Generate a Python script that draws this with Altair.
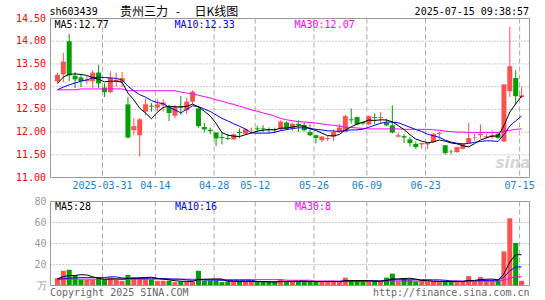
import altair as alt
import pandas as pd
import numpy as np

# ---------------- data ----------------
opens = [13.12, 13.27, 14.00, 13.24, 13.20, 13.12, 13.12, 13.31, 12.98, 12.88,
         13.12, 13.10, 12.61, 12.04, 11.93, 12.45, 12.58, 12.54, 12.59, 12.55,
         12.36, 12.57, 12.48, 12.67, 12.52, 12.11, 12.05, 11.99, 11.89, 11.87,
         11.84, 12.00, 11.96, 12.04, 12.08, 12.08, 12.06, 12.06, 12.06, 12.21,
         12.08, 12.18, 12.15, 12.00, 11.93, 11.82, 11.85, 11.90, 12.00, 12.00,
         12.28, 12.33, 12.22, 12.17, 12.33, 12.31, 12.21, 12.15, 11.90, 11.91,
         11.84, 11.74, 11.73, 11.73, 11.78, 11.96, 11.71, 11.57, 11.56, 11.63,
         11.76, 11.88, 11.93, 11.89, 11.89, 11.96, 11.79, 12.90, 13.19, 12.77]
highs = [13.31, 13.74, 14.16, 13.32, 13.27, 13.23, 13.36, 13.48, 13.07, 13.34,
         13.31, 13.32, 12.77, 12.31, 12.31, 12.74, 12.64, 12.72, 12.72, 12.60,
         12.60, 12.80, 12.76, 12.92, 12.57, 12.20, 12.10, 11.99, 11.99, 11.95,
         11.97, 12.08, 12.08, 12.10, 12.14, 12.15, 12.10, 12.10, 12.26, 12.24,
         12.21, 12.26, 12.21, 12.17, 11.94, 11.91, 11.91, 12.06, 12.18, 12.38,
         12.52, 12.34, 12.24, 12.37, 12.41, 12.44, 12.29, 12.59, 11.99, 11.95,
         11.89, 11.79, 11.76, 11.76, 11.98, 12.00, 11.71, 11.61, 11.68, 11.76,
         12.20, 11.96, 12.17, 11.96, 12.04, 12.00, 13.05, 14.32, 13.36, 13.00]
lows = [13.08, 13.10, 13.12, 12.97, 12.99, 13.05, 12.97, 12.97, 12.77, 12.85,
        13.00, 12.99, 11.86, 11.93, 11.46, 12.37, 12.45, 12.46, 12.45, 12.24,
        12.30, 12.38, 12.40, 12.62, 12.10, 11.99, 11.95, 11.69, 11.73, 11.82,
        11.82, 11.87, 11.94, 11.99, 11.99, 12.00, 11.98, 11.98, 12.03, 12.05,
        12.03, 12.00, 12.01, 11.91, 11.75, 11.78, 11.80, 11.80, 11.98, 12.00,
        12.19, 12.15, 12.15, 12.15, 12.17, 12.19, 12.13, 11.97, 11.88, 11.76,
        11.68, 11.63, 11.63, 11.63, 11.76, 11.85, 11.50, 11.51, 11.54, 11.62,
        11.76, 11.81, 11.86, 11.85, 11.85, 11.85, 11.78, 12.77, 12.62, 12.75]
closes = [13.26, 13.55, 13.25, 13.16, 13.12, 13.15, 13.31, 13.07, 12.88, 13.19,
          13.15, 13.19, 11.88, 12.13, 12.28, 12.61, 12.56, 12.61, 12.65, 12.42,
          12.55, 12.54, 12.67, 12.89, 12.13, 12.06, 12.02, 11.86, 11.87, 11.85,
          11.95, 11.98, 12.06, 12.05, 12.06, 12.06, 12.04, 12.04, 12.23, 12.07,
          12.18, 12.15, 12.04, 11.93, 11.87, 11.90, 11.87, 12.00, 12.10, 12.35,
          12.26, 12.17, 12.19, 12.35, 12.31, 12.33, 12.15, 11.99, 11.93, 11.88,
          11.76, 11.67, 11.76, 11.76, 11.96, 11.98, 11.54, 11.56, 11.67, 11.74,
          11.87, 11.89, 11.96, 11.91, 11.93, 11.87, 13.05, 13.45, 12.79, 12.81]
volumes = [7.0, 14.0, 15.0, 10.0, 5.5, 5.5, 5.5, 7.5, 5.5, 7.5,
           5.5, 4.5, 10.0, 8.0, 8.0, 7.5, 6.0, 4.5, 4.5, 4.5,
           3.2, 3.8, 3.8, 3.8, 14.0, 4.5, 4.5, 4.5, 3.2, 3.8,
           3.8, 3.8, 3.8, 3.8, 3.2, 3.2, 3.2, 3.2, 6.0, 3.8,
           3.8, 3.8, 3.8, 3.8, 3.8, 3.8, 3.8, 3.8, 3.8, 7.5,
           4.4, 3.8, 3.8, 3.8, 5.0, 3.8, 7.5, 11.3, 3.8, 7.0,
           5.0, 3.8, 3.8, 3.8, 3.8, 3.8, 3.8, 3.8, 3.8, 3.8,
           9.0, 3.8, 8.0, 5.0, 5.0, 5.0, 32.5, 64.0, 40.5, 4.5]

# moving-average values read where the window reaches before the first candle
ma5_head = [13.07, 13.21, 13.27, 13.28]
ma10_head = [12.93, 12.99, 13.04, 13.08, 13.12, 13.15, 13.19, 13.21, 13.20]
ma30 = [12.93, 12.93, 12.93, 12.93, 12.95, 12.95, 12.95, 12.95, 12.95, 12.95,
        12.95, 12.95, 12.91, 12.91, 12.91, 12.91, 12.91, 12.91, 12.91, 12.91,
        12.91, 12.88, 12.86, 12.84, 12.81, 12.78, 12.75, 12.71, 12.68, 12.64,
        12.61, 12.57, 12.53, 12.49, 12.46, 12.42, 12.39, 12.35, 12.30, 12.27,
        12.25, 12.23, 12.22, 12.21, 12.20, 12.18, 12.16, 12.15, 12.13, 12.11,
        12.10, 12.09, 12.08, 12.07, 12.07, 12.07, 12.07, 12.07, 12.07, 12.06,
        12.06, 12.06, 12.06, 12.06, 12.05, 12.04, 12.02, 12.01, 12.00, 12.00,
        11.99, 11.99, 11.99, 11.99, 11.99, 11.99, 12.02, 12.04, 12.06, 12.07]
vol_ma5_head = [6.5, 8.5, 9.5, 9.5]
vol_ma10_head = [6.2, 6.5, 7.0, 7.3, 7.5, 7.5, 7.5, 7.5, 7.5]
vol_ma30 = [6.0, 6.0, 6.0, 6.0, 6.0, 6.0, 6.0, 6.0, 6.0, 6.0,
            6.0, 6.0, 6.0, 6.0, 6.0, 6.0, 6.0, 6.0, 6.0, 6.0,
            6.0, 6.0, 6.0, 6.0, 6.0, 5.6, 5.6, 5.6, 5.6, 5.6,
            5.6, 5.6, 5.6, 5.6, 5.6, 5.6, 5.6, 5.6, 5.6, 5.0,
            5.0, 5.0, 5.0, 5.0, 4.2, 4.2, 4.2, 4.2, 4.2, 4.2,
            4.2, 4.2, 4.2, 4.2, 4.2, 4.2, 4.2, 4.2, 4.2, 4.2,
            4.2, 4.2, 4.2, 4.2, 4.2, 4.2, 4.2, 4.2, 4.2, 4.2,
            4.2, 4.2, 4.2, 4.2, 4.2, 4.2, 5.3, 7.0, 8.2, 8.3]

date_ticks = [8, 17, 27, 34, 44, 53, 63, 79]
date_labels = ["2025-03-31", "04-14", "04-28", "05-12", "05-26", "06-09", "06-23", "07-15"]
price_ticks = [11.0, 11.5, 12.0, 12.5, 13.0, 13.5, 14.0, 14.5]
price_grid = [11.5, 12.0, 12.5, 13.0, 13.5, 14.0]
vol_ticks = [0, 20, 40, 60, 80]
vol_tick_labels = ["万", "20", "40", "60", "80"]
vol_grid = [20, 40, 60]

RED = "#ff5050"
GREEN = "#00a000"
MONO = "DejaVu Sans Mono"
CJK = "Noto Sans CJK SC"

# panel frames in pixels (inside the plot group, which starts 50 px from the left)
PX_L, PX_R = 0.5, 479.5
P_TOP, P_BOT = 18.5, 177.5
V_TOP, V_BOT = 201.5, 285.5

# ---------------- tables ----------------
n = len(closes)
df = pd.DataFrame({"idx": range(n), "open": opens, "high": highs, "low": lows,
                   "close": closes, "vol": volumes, "ma30": ma30, "vma30": vol_ma30})
df["col"] = np.where(df["close"] >= df["open"], RED, GREEN)
ma5 = df["close"].rolling(5).mean()
ma5.iloc[:4] = ma5_head
ma10 = df["close"].rolling(10).mean()
ma10.iloc[:9] = ma10_head
df["ma5"] = ma5
df["ma10"] = ma10
vma5 = df["vol"].rolling(5).mean()
vma5.iloc[:4] = vol_ma5_head
vma10 = df["vol"].rolling(10).mean()
vma10.iloc[:9] = vol_ma10_head
df["vma5"] = vma5
df["vma10"] = vma10


def xs():
    return alt.Scale(domain=[-1 / 3, 79.5], range=[PX_L, PX_R], nice=False, zero=False)


def yp():
    return alt.Scale(domain=[11, 14.5], range=[P_BOT, P_TOP], nice=False, zero=False)


def yv():
    return alt.Scale(domain=[0, 80], range=[V_BOT, V_TOP], nice=False, zero=False)


X = alt.X("idx:Q", scale=xs(), axis=None)
base = alt.Chart(df)
one = pd.DataFrame({"a": [0]})
vgrid_df = pd.DataFrame({"g": [t - 1 / 3 for t in date_ticks], "lab": date_labels})

layers = []

# ---------------- grids and frames ----------------
layers.append(alt.Chart(pd.DataFrame({"p": price_grid})).mark_rule(
    color="#9a9a9a", strokeDash=[1, 2], strokeWidth=1
).encode(y=alt.Y("p:Q", scale=yp(), axis=None), x=alt.value(PX_L), x2=alt.value(PX_R)))

layers.append(alt.Chart(pd.DataFrame({"v": vol_grid})).mark_rule(
    color="#9a9a9a", strokeDash=[1, 2], strokeWidth=1
).encode(y=alt.Y("v:Q", scale=yv(), axis=None), x=alt.value(PX_L), x2=alt.value(PX_R)))

for top, bot in [(P_TOP, P_BOT), (V_TOP, V_BOT)]:
    layers.append(alt.Chart(vgrid_df).mark_rule(
        color="#aaaaaa", strokeDash=[5, 3], strokeWidth=1
    ).encode(x=alt.X("g:Q", scale=xs(), axis=None), y=alt.value(top), y2=alt.value(bot)))

# ---------------- price panel ----------------
layers.append(base.mark_rule(strokeWidth=1).encode(
    x=X, y=alt.Y("low:Q", scale=yp(), axis=None), y2="high:Q",
    color=alt.Color("col:N", scale=None)))
layers.append(base.mark_bar(size=5).encode(
    x=X, y=alt.Y("open:Q", scale=yp(), axis=None), y2="close:Q",
    color=alt.Color("col:N", scale=None)))

for col, c in [("ma30", "#ff00ff"), ("ma10", "#0000ff"), ("ma5", "black")]:
    layers.append(base.mark_line(color=c, strokeWidth=1).encode(
        x=X, y=alt.Y(f"{col}:Q", scale=yp(), axis=None)))

layers.append(alt.Chart(pd.DataFrame({"p": price_ticks,
                                      "lab": [f"{v:.2f}" for v in price_ticks]})).mark_text(
    align="right", baseline="middle", font=MONO, fontSize=10, color="#ff0000"
).encode(y=alt.Y("p:Q", scale=yp(), axis=None), x=alt.value(-4), text="lab:N"))

layers.append(alt.Chart(vgrid_df).mark_text(
    align="center", baseline="middle", font=MONO, fontSize=10, color="#1a7fd0"
).encode(x=alt.X("g:Q", scale=xs(), axis=None), y=alt.value(186), text="lab:N"))

# ---------------- volume panel ----------------
layers.append(base.mark_bar(size=5).encode(
    x=X, y=alt.Y("vol:Q", scale=yv(), axis=None), y2=alt.Y2Datum(0),
    color=alt.Color("col:N", scale=None)))

for col, c in [("vma30", "#ff00ff"), ("vma10", "#0000ff"), ("vma5", "black")]:
    layers.append(base.mark_line(color=c, strokeWidth=1).encode(
        x=X, y=alt.Y(f"{col}:Q", scale=yv(), axis=None)))

layers.append(alt.Chart(pd.DataFrame({"v": vol_ticks, "lab": vol_tick_labels})).mark_text(
    align="right", baseline="middle", font=MONO, fontSize=10, color="#9a9a9a"
).encode(y=alt.Y("v:Q", scale=yv(), axis=None), x=alt.value(-3.5), text="lab:N"))

# panel frames on top
for top, bot in [(P_TOP, P_BOT), (V_TOP, V_BOT)]:
    layers.append(alt.Chart(one).mark_rect(fillOpacity=0, stroke="#999999", strokeWidth=1).encode(
        x=alt.value(PX_L), x2=alt.value(PX_R), y=alt.value(top), y2=alt.value(bot)))

# ---------------- free texts ----------------
text_items = [
    # (text, x, y, color, align, font, size)
    ("sh603439", -0.5, 12, "black", "left", MONO, 10),
    ("贵州三力", 70, 12, "black", "left", CJK, 12),
    ("-", 128, 12, "black", "center", CJK, 12),
    ("日K线图", 144.5, 12, "black", "left", CJK, 12),
    ("2025-07-15 09:38:57", 479, 12, "black", "right", MONO, 10),
    ("MA5:12.77", 4.5, 25, "black", "left", MONO, 10),
    ("MA10:12.33", 124.5, 25, "#0000ff", "left", MONO, 10),
    ("MA30:12.07", 244.5, 25, "#ff00ff", "left", MONO, 10),
    ("MA5:28", 5, 206.5, "black", "left", MONO, 10),
    ("MA10:16", 125, 206.5, "#0000ff", "left", MONO, 10),
    ("MA30:8", 245, 206.5, "#ff00ff", "left", MONO, 10),
    ("Copyright 2025 SINA.COM", 0, 292.5, "#666666", "left", MONO, 10),
    ("http://finance.sina.com.cn", 479.5, 292.5, "#666666", "right", MONO, 10),
]
for s, x, y, c, a, f, sz in text_items:
    layers.append(alt.Chart(pd.DataFrame({"t": [s]})).mark_text(
        align=a, baseline="middle", font=f, fontSize=sz, color=c
    ).encode(x=alt.value(x), y=alt.value(y), text="t:N"))

layers.append(alt.Chart(pd.DataFrame({"t": ["sina"]})).mark_text(
    align="center", baseline="middle", font="DejaVu Sans", fontSize=15,
    fontStyle="italic", fontWeight="bold", color="#d6d6d6"
).encode(x=alt.value(463), y=alt.value(163), text="t:N"))

chart = alt.layer(*layers).resolve_scale(y="independent").properties(
    width=480, height=300,
    padding={"left": 50, "top": 0, "right": 15, "bottom": 0},
    autosize=alt.AutoSizeParams(type="none"),
    background="white",
).configure_view(stroke=None)

chart.save("out.html", embed_options={"renderer": "svg", "actions": False})
